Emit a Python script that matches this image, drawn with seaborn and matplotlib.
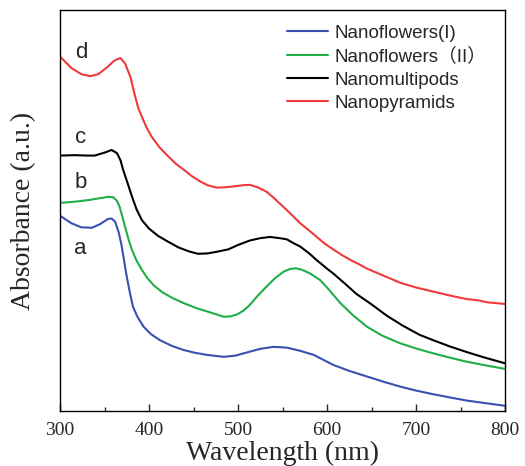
import numpy as np
import pandas as pd
import matplotlib
matplotlib.use("Agg")
import matplotlib.pyplot as plt
import seaborn as sns
from matplotlib.lines import Line2D

# ---- data ----
wl_a = [300, 313, 324, 336, 345, 354, 358, 362, 366, 369, 372, 375, 379, 382, 387, 394, 402, 412, 425, 439,
        452, 465, 484, 497, 510, 525, 540, 555, 570, 585, 607, 625, 645, 665, 682, 700, 719, 740, 757, 780, 800]
abs_a = [0.487, 0.468, 0.458, 0.457, 0.466, 0.479, 0.480, 0.472, 0.445, 0.415, 0.375, 0.335, 0.290, 0.260, 0.235,
         0.210, 0.192, 0.177, 0.163, 0.152, 0.145, 0.140, 0.135, 0.138, 0.146, 0.155, 0.160, 0.158, 0.150, 0.140,
         0.115, 0.100, 0.086, 0.072, 0.061, 0.051, 0.042, 0.033, 0.026, 0.019, 0.013]

wl_b = [300, 317, 332, 343, 354, 360, 364, 367, 370, 373, 377, 381, 386, 392, 398, 405, 415, 427, 440, 454,
        470, 484, 492, 499, 506, 513, 522, 532, 542, 551, 558, 565, 572, 581, 592, 600, 607, 615, 630, 645,
        662, 682, 700, 719, 738, 757, 780, 800]
abs_b = [0.519, 0.522, 0.526, 0.530, 0.534, 0.533, 0.524, 0.509, 0.485, 0.460, 0.428, 0.401, 0.375, 0.352, 0.332,
         0.314, 0.296, 0.281, 0.268, 0.256, 0.245, 0.235, 0.236, 0.241, 0.250, 0.264, 0.287, 0.310, 0.332, 0.347,
         0.354, 0.356, 0.352, 0.343, 0.327, 0.308, 0.290, 0.269, 0.237, 0.210, 0.188, 0.169, 0.156, 0.144, 0.133,
         0.123, 0.113, 0.105]

wl_c = [300, 317, 330, 339, 345, 351, 358, 364, 368, 371, 376, 381, 386, 392, 400, 410, 420, 433, 445, 455,
        466, 476, 489, 500, 513, 525, 536, 547, 555, 562, 570, 580, 588, 600, 607, 620, 633, 650, 667, 685,
        704, 720, 738, 757, 776, 800]
abs_c = [0.637, 0.638, 0.637, 0.637, 0.641, 0.645, 0.651, 0.643, 0.625, 0.601, 0.568, 0.534, 0.503, 0.476, 0.455,
         0.437, 0.424, 0.408, 0.398, 0.392, 0.393, 0.397, 0.403, 0.414, 0.425, 0.431, 0.434, 0.431, 0.428, 0.419,
         0.410, 0.393, 0.377, 0.355, 0.343, 0.318, 0.292, 0.266, 0.238, 0.213, 0.190, 0.176, 0.161, 0.147, 0.134,
         0.119]

wl_d = [300, 313, 324, 334, 343, 354, 360, 364, 368, 373, 379, 384, 388, 392, 397, 403, 412, 422, 430, 440,
        448, 457, 466, 476, 486, 495, 505, 513, 522, 532, 541, 551, 560, 570, 580, 588, 597, 607, 616, 626,
        636, 645, 663, 682, 700, 719, 738, 757, 770, 780, 800]
abs_d = [0.884, 0.855, 0.840, 0.835, 0.840, 0.859, 0.872, 0.877, 0.880, 0.867, 0.834, 0.788, 0.755, 0.734, 0.708,
         0.684, 0.657, 0.634, 0.617, 0.600, 0.586, 0.573, 0.563, 0.557, 0.558, 0.560, 0.563, 0.564, 0.558, 0.547,
         0.530, 0.509, 0.490, 0.468, 0.450, 0.435, 0.418, 0.403, 0.390, 0.377, 0.366, 0.355, 0.338, 0.320, 0.308,
         0.298, 0.288, 0.279, 0.276, 0.271, 0.267]

series_names = ["Nanoflowers(I)", "Nanoflowers\uff08II\uff09", "Nanomultipods", "Nanopyramids"]
curve_letters = ["a", "b", "c", "d"]
letter_x = [323, 323, 323, 324]
letter_y = [0.406, 0.569, 0.683, 0.893]
xticks = [300, 400, 500, 600, 700, 800]

colors = ["#3a4fb0", "#1fae48", "#000000", "#f03a3a"]

frames = []
for name, w, a in zip(series_names, [wl_a, wl_b, wl_c, wl_d], [abs_a, abs_b, abs_c, abs_d]):
    frames.append(pd.DataFrame({"Wavelength": w, "Absorbance": a, "Sample": name}))
df = pd.concat(frames, ignore_index=True)

sns.set_style("ticks")
plt.rcParams["font.family"] = ["Liberation Serif", "DejaVu Serif"]

fig = plt.figure(figsize=(5.25, 4.66), dpi=100)
ax = fig.add_axes([60/525, 55/466, 445/525, 401/466])

sns.lineplot(data=df, x="Wavelength", y="Absorbance", hue="Sample",
             palette=dict(zip(series_names, colors)), hue_order=series_names,
             linewidth=1.5, ax=ax, legend=False, estimator=None, sort=False)

ax.set_xlim(300, 800)
ax.set_ylim(0, 1.0)
ax.set_xticks(xticks)
ax.set_xticks(np.arange(350, 800, 100), minor=True)
ax.set_yticks([])
ax.tick_params(axis="x", which="major", direction="in", length=5, width=1.0, labelsize=14, pad=8)
ax.tick_params(axis="x", which="minor", direction="in", length=3, width=1.0)
for s in ax.spines.values():
    s.set_linewidth(1.0)
    s.set_color("black")

ax.set_xlabel("Wavelength (nm)", fontsize=20, labelpad=1)
ax.set_ylabel("Absorbance (a.u.)", fontsize=20, labelpad=17)

for lt, lx, ly in zip(curve_letters, letter_x, letter_y):
    ax.text(lx, ly, lt, fontsize=16, family=["Liberation Sans", "DejaVu Sans"],
            ha="center", va="center")

handles = [Line2D([0], [0], color=c, lw=1.5) for c in colors]
leg = ax.legend(handles, series_names, loc="upper left", bbox_to_anchor=(0.510, 0.964),
                borderaxespad=0, borderpad=0, frameon=False, handlelength=2.2,
                handletextpad=0.32, labelspacing=0.32,
                prop={"family": ["Liberation Sans", "Noto Sans CJK SC"], "size": 13.5})

fig.savefig("out.png", dpi=100)
